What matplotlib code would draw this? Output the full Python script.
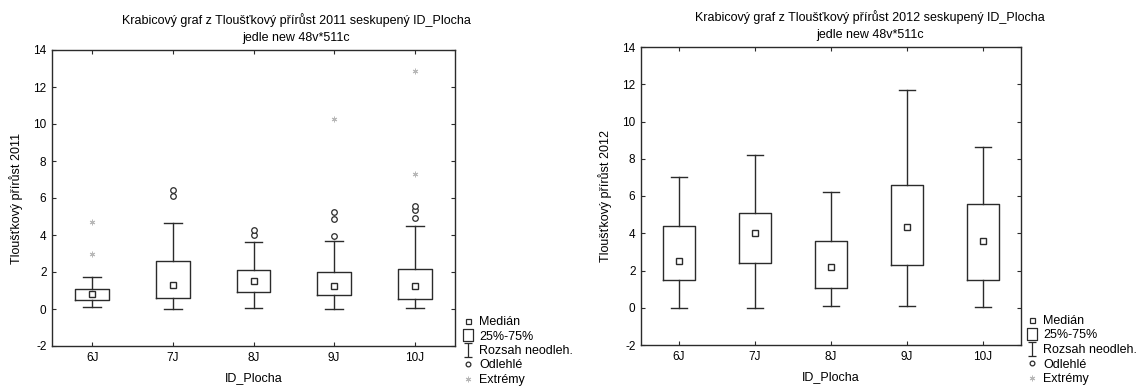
import matplotlib.pyplot as plt
from matplotlib.lines import Line2D
from matplotlib.path import Path

plt.rcParams['font.family'] = ['Liberation Sans', 'DejaVu Sans']
plt.rcParams['axes.unicode_minus'] = False

# data
kategorie = ['6J', '7J', '8J', '9J', '10J']

med_2011 = [0.82, 1.30, 1.50, 1.27, 1.27]
q1_2011 = [0.51, 0.58, 0.91, 0.73, 0.54]
q3_2011 = [1.10, 2.57, 2.09, 1.99, 2.18]
lo_2011 = [0.11, 0.00, 0.07, 0.00, 0.07]
hi_2011 = [1.74, 4.64, 3.63, 3.66, 4.50]
odlehle_2011 = [[], [6.09, 6.42], [3.99, 4.28], [3.92, 4.86, 5.22], [4.93, 5.35, 5.55]]
extremy_2011 = [[2.97, 4.68], [], [], [10.25], [7.28, 12.89]]

med_2012 = [2.49, 3.99, 2.18, 4.36, 3.58]
q1_2012 = [1.48, 2.38, 1.07, 2.27, 1.47]
q3_2012 = [4.40, 5.08, 3.58, 6.60, 5.55]
lo_2012 = [0.00, 0.00, 0.09, 0.09, 0.04]
hi_2012 = [7.00, 8.20, 6.20, 11.70, 8.62]
odlehle_2012 = [[], [], [], [], []]
extremy_2012 = [[], [], [], [], []]

W, H = 1136, 387
fig = plt.figure(figsize=(W / 100, H / 100), dpi=100)

LC = '#2b2b2b'
EXT_C = '#b8b8b8'

# I-shaped marker for whisker range in legend, tall box for 25%-75%
whisk_path = Path([(-0.32, 0.5), (0.32, 0.5), (0, 0.5), (0, -0.5), (-0.32, -0.5), (0.32, -0.5)],
                  [Path.MOVETO, Path.LINETO, Path.MOVETO, Path.LINETO, Path.MOVETO, Path.LINETO])
box_path = Path([(-0.37, -0.5), (0.37, -0.5), (0.37, 0.5), (-0.37, 0.5), (-0.37, -0.5)],
                [Path.MOVETO, Path.LINETO, Path.LINETO, Path.LINETO, Path.CLOSEPOLY])


def px_axes(x0, y0, x1, y1):
    return fig.add_axes([x0 / W, 1 - y1 / H, (x1 - x0) / W, (y1 - y0) / H])


def kresli(ax, med, q1, q3, lo, hi, odl, ext, ylabel, title, title_x, title_y, leg_x, leg_y):
    stats = []
    for i in range(len(kategorie)):
        stats.append({'med': med[i], 'q1': q1[i], 'q3': q3[i],
                      'whislo': lo[i], 'whishi': hi[i], 'fliers': [], 'label': kategorie[i]})
    pos = list(range(1, len(kategorie) + 1))
    ax.bxp(stats, positions=pos, widths=0.42, capwidths=0.22, showfliers=False,
           boxprops=dict(color=LC, linewidth=1.0),
           whiskerprops=dict(color=LC, linewidth=1.0),
           capprops=dict(color=LC, linewidth=1.0),
           medianprops=dict(linewidth=0))
    ax.plot(pos, med, 's', ms=4, mfc='white', mec=LC, mew=1.0, zorder=5)
    for i, p in enumerate(pos):
        if odl[i]:
            ax.plot([p] * len(odl[i]), odl[i], 'o', ms=4, mfc='white', mec=LC, mew=0.9)
        if ext[i]:
            ax.plot([p] * len(ext[i]), ext[i], marker=(6, 2, 0), ls='none', ms=4, mec=EXT_C, mew=0.7)

    ax.set_xlim(0.5, 5.5)
    ax.set_ylim(-2, 14)
    ax.set_yticks(range(-2, 15, 2))
    ax.set_xticks(pos)
    ax.set_xticklabels(kategorie)
    ax.tick_params(direction='in', length=3, width=0.8, colors=LC, labelsize=8.5,
                   top=True, right=True, labelcolor='black', pad=4)
    for s in ax.spines.values():
        s.set_color(LC)
        s.set_linewidth(1.0)
    ax.set_xlabel('ID_Plocha', fontsize=9, labelpad=6)
    ax.set_ylabel(ylabel, fontsize=9, labelpad=7)

    fig.text(title_x / W, 1 - title_y / H, title, ha='center', va='center', fontsize=9)
    fig.text(title_x / W, 1 - (title_y + 18) / H, 'jedle new 48v*511c', ha='center', va='center', fontsize=9)

    handles = [
        Line2D([], [], ls='none', marker='s', ms=3.6, mfc='white', mec=LC, mew=0.9),
        Line2D([], [], ls='none', marker=box_path, ms=9, mfc='white', mec=LC, mew=0.9),
        Line2D([], [], ls='none', marker=whisk_path, ms=9.5, mfc='none', mec=LC, mew=0.9),
        Line2D([], [], ls='none', marker='o', ms=3.4, mfc='white', mec=LC, mew=0.9),
        Line2D([], [], ls='none', marker=(6, 2, 0), ms=4, mec=EXT_C, mew=0.7),
    ]
    labels = ['Medián', '25%-75%', 'Rozsah neodleh.', 'Odlehlé', 'Extrémy']
    fig.legend(handles, labels, loc='upper left', bbox_to_anchor=(leg_x / W, 1 - leg_y / H),
               frameon=False, fontsize=9, handlelength=1.0, handletextpad=0.35,
               labelspacing=0.2, borderpad=0, borderaxespad=0)


ax1 = px_axes(52, 50, 455, 346)
kresli(ax1, med_2011, q1_2011, q3_2011, lo_2011, hi_2011, odlehle_2011, extremy_2011,
       'Tloušťkový přírůst 2011',
       'Krabicový graf z Tloušťkový přírůst 2011 seskupený ID_Plocha', 296, 20, 462, 316)

ax2 = px_axes(641, 47, 1021, 345)
kresli(ax2, med_2012, q1_2012, q3_2012, lo_2012, hi_2012, odlehle_2012, extremy_2012,
       'Tloušťkový přírůst 2012',
       'Krabicový graf z Tloušťkový přírůst 2012 seskupený ID_Plocha', 870, 17, 1026, 315)

fig.savefig('out.png', dpi=100)
